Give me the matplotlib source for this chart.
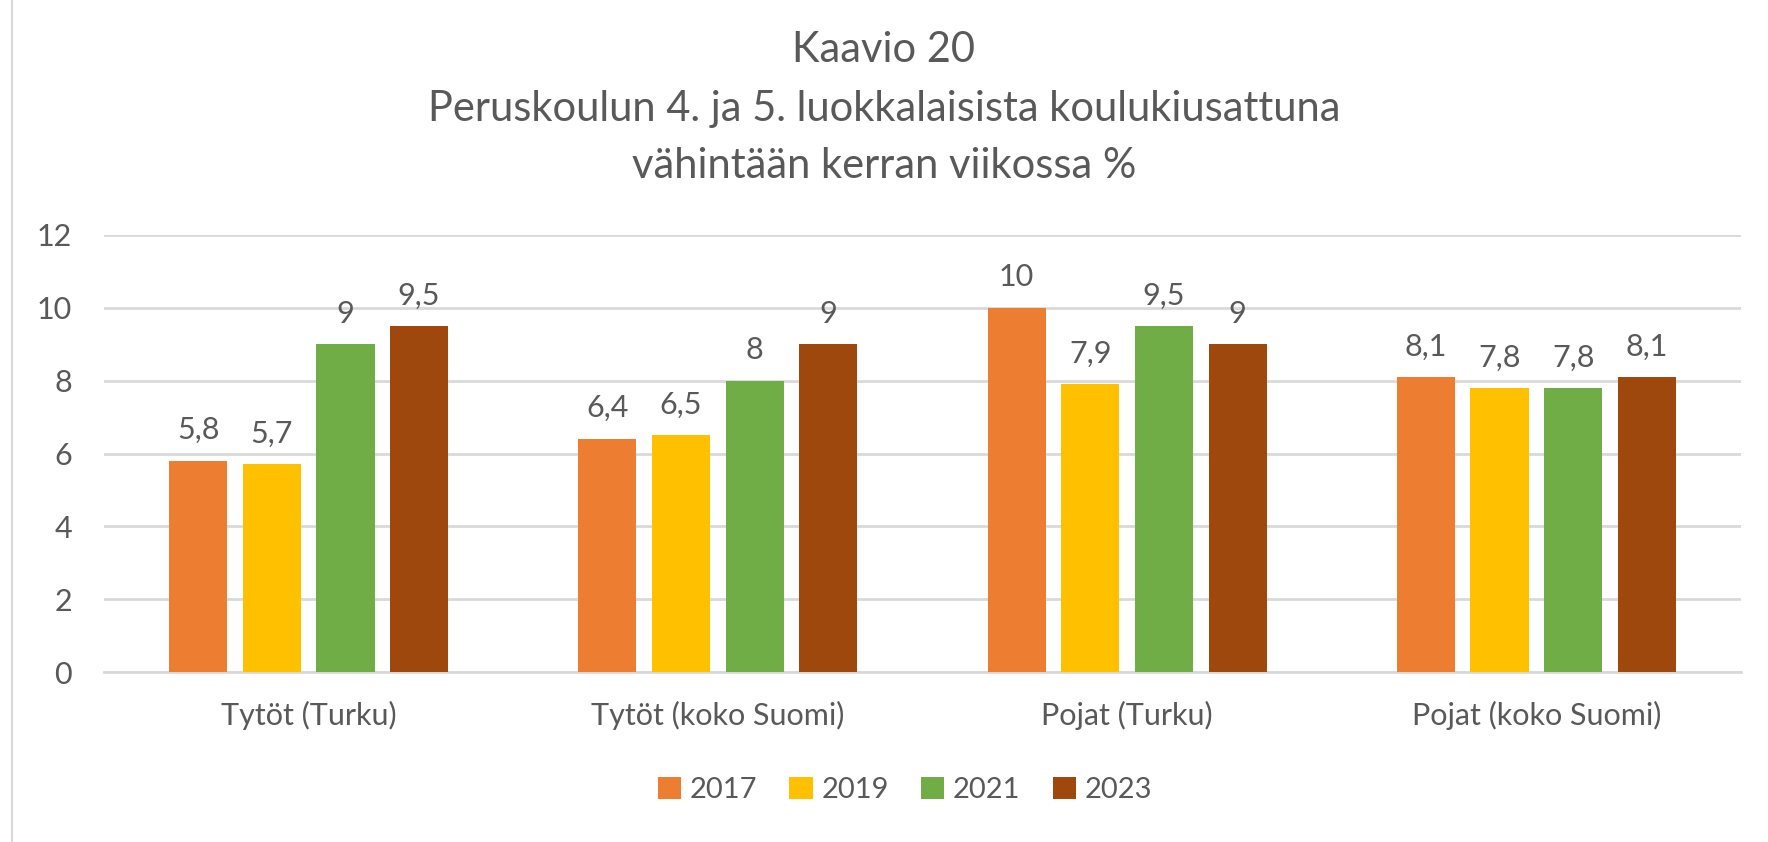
import numpy as np
import matplotlib.pyplot as plt
from matplotlib.lines import Line2D

# Data
categories = ['Tytöt (Turku)', 'Tytöt (koko Suomi)', 'Pojat (Turku)', 'Pojat (koko Suomi)']
years = ['2017', '2019', '2021', '2023']
v2017 = [5.8, 6.4, 10, 8.1]
v2019 = [5.7, 6.5, 7.9, 7.8]
v2021 = [9, 8, 9.5, 7.8]
v2023 = [9.5, 9, 9, 8.1]
series = [v2017, v2019, v2021, v2023]
colors = ['#ED7D31', '#FFC000', '#70AD47', '#9E480E']
txt = '#595959'

plt.rcParams['font.family'] = ['Lato', 'DejaVu Sans']

fig = plt.figure(figsize=(17.68, 8.42), dpi=100)
ax = fig.add_axes([104 / 1768, 1 - 672 / 842, (1741 - 104) / 1768, (672 - 235) / 842])

x = np.arange(len(categories))
step = 0.18
width = 0.142
for i, (vals, c, yr) in enumerate(zip(series, colors, years)):
    pos = x + (i - 1.5) * step
    bars = ax.bar(pos, vals, width, color=c, label=yr, zorder=3)
    for b, v in zip(bars, vals):
        lab = ('%g' % v).replace('.', ',')
        ax.annotate(lab, (b.get_x() + b.get_width() / 2, v), xytext=(0, 12),
                    textcoords='offset points', ha='center', va='bottom',
                    fontsize=22, color=txt)

ax.set_xlim(-0.5, len(categories) - 0.5)
ax.set_ylim(0, 12)
ax.set_yticks(range(0, 13, 2))
ax.set_xticks(x)
ax.set_xticklabels(categories)
ax.yaxis.grid(True, color='#D9D9D9', linewidth=2, zorder=0)
for s in ['top', 'right', 'left']:
    ax.spines[s].set_visible(False)
ax.spines['bottom'].set_color('#D9D9D9')
ax.spines['bottom'].set_linewidth(2)
ax.tick_params(axis='y', length=0, pad=23, labelsize=22, labelcolor=txt)
ax.tick_params(axis='x', length=0, pad=21, labelsize=22, labelcolor=txt)

fig.text(0.5, 1 - 50 / 842, 'Kaavio 20', ha='center', va='center', fontsize=30, color=txt)
fig.text(0.5, 1 - 109 / 842, 'Peruskoulun 4. ja 5. luokkalaisista koulukiusattuna',
         ha='center', va='center', fontsize=30, color=txt)
fig.text(0.5, 1 - 166 / 842, 'vähintään kerran viikossa %', ha='center', va='center',
         fontsize=30, color=txt)

leg = fig.legend(loc='center', bbox_to_anchor=(905 / 1768, 1 - 790 / 842), ncol=4,
                 frameon=False, fontsize=21, handlelength=0.8, handleheight=0.8,
                 handletextpad=0.3, columnspacing=1.1)
for t in leg.get_texts():
    t.set_color(txt)

fig.add_artist(Line2D([12 / 1768, 12 / 1768], [0, 1], color='#D9D9D9', linewidth=1.5))

fig.savefig('out.png', dpi=100, facecolor='white')
